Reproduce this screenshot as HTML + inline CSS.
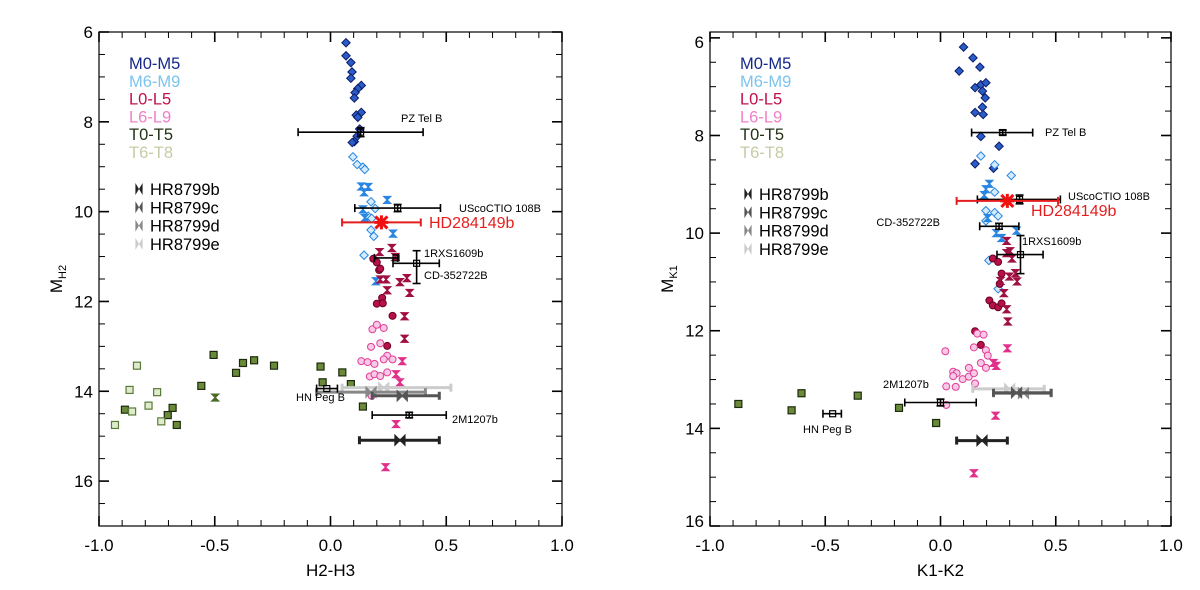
<!DOCTYPE html>
<html><head><meta charset="utf-8">
<style>
html,body{margin:0;padding:0;background:#fff;}
svg{display:block;font-family:"Liberation Sans",Arial,sans-serif;}
</style></head>
<body>
<svg id="chart" width="1200" height="590" viewBox="0 0 1200 590" xmlns="http://www.w3.org/2000/svg"></svg>
<script>
// ---------- LEFT PANEL DATA (H2-H3 vs M_H2) ----------
const leftM05 = [[0.067,6.24],[0.067,6.53],[0.088,6.68],[0.093,6.89],[0.088,7.03],[0.133,7.19],[0.118,7.26],[0.106,7.35],[0.103,7.47],[0.133,7.79],[0.111,7.85],[0.118,7.90],[0.126,8.16],[0.115,8.32],[0.103,8.44],[0.094,8.46]];
const leftM69 = [[0.097,8.78],[0.115,8.95],[0.14,9.01],[0.148,9.06],[0.175,9.78],[0.193,9.93],[0.163,10.10],[0.178,10.15],[0.175,10.41],[0.187,10.55],[0.145,10.97]];
const leftM69h = [[0.133,9.44],[0.163,9.45],[0.145,9.57],[0.245,9.74],[0.14,9.95],[0.148,10.14],[0.27,10.49],[0.196,11.55]];
const leftL05 = [[0.185,11.05],[0.2,11.13],[0.21,11.30],[0.215,11.27],[0.223,11.92],[0.2,12.05],[0.226,12.04],[0.268,12.32],[0.245,12.99]];
const leftL05h = [[0.212,10.90],[0.265,10.81],[0.28,11.01],[0.24,11.51],[0.215,11.51],[0.30,11.57],[0.245,11.75],[0.33,11.48],[0.342,11.81],[0.32,12.33],[0.32,12.83]];
const leftL69 = [[0.181,12.62],[0.2,12.52],[0.23,12.59],[0.175,13.01],[0.215,12.93],[0.245,13.21],[0.23,13.29],[0.268,13.29],[0.133,13.33],[0.16,13.35],[0.19,13.39],[0.17,13.67],[0.19,13.62],[0.215,13.66],[0.245,13.58],[0.178,14.10]];
const leftL69h = [[0.31,13.33],[0.283,13.62],[0.30,13.80],[0.283,14.73],[0.238,15.69]];
const leftT05 = [[-0.505,13.19],[-0.378,13.37],[-0.33,13.31],[-0.244,13.43],[-0.408,13.59],[-0.558,13.88],[-0.888,14.41],[-0.682,14.37],[-0.703,14.53],[-0.664,14.75],[-0.043,13.45],[0.051,13.58],[-0.034,13.80],[0.088,13.84],[0.14,14.34]];
const leftT05h = [[-0.498,14.14]];
const leftT68 = [[-0.836,13.43],[-0.868,13.97],[-0.749,14.02],[-0.786,14.32],[-0.857,14.45],[-0.731,14.67],[-0.931,14.75]];
// named objects: [x, y, xlo, xhi, ylo, yhi]
const leftObjNames = ["PZ Tel B","UScoCTIO 108B","1RXS1609b","CD-352722B","HN Peg B","2M1207b"];
const leftObjVals = [[0.13,8.23,-0.14,0.40,8.13,8.33],[0.29,9.92,0.105,0.475,9.84,10.0],[0.283,11.03,0.19,0.29,11.03,11.03],[0.372,11.15,0.27,0.47,10.87,11.6],[-0.016,13.94,-0.06,0.03,13.94,13.94],[0.34,14.53,0.18,0.50,14.47,14.59]];
const leftHD = [0.22,10.24,0.05,0.39];
const leftHR = [[0.30,15.09,0.125,0.47],[0.31,14.10,0.18,0.47],[0.175,14.02,-0.06,0.41],[0.23,13.92,0.05,0.52]];

// ---------- RIGHT PANEL DATA (K1-K2 vs M_K1) ----------
const rightM05 = [[0.10,6.19],[0.141,6.41],[0.171,6.60],[0.081,6.68],[0.15,7.02],[0.175,6.96],[0.197,6.92],[0.182,7.09],[0.194,7.23],[0.182,7.42],[0.15,7.53],[0.185,7.57],[0.175,8.02],[0.254,8.22],[0.15,8.58],[0.23,8.67]];
const rightM69 = [[0.175,8.42],[0.235,8.60],[0.307,8.82],[0.235,9.16],[0.197,9.54],[0.235,9.58],[0.25,9.65],[0.197,9.75],[0.21,10.56],[0.25,11.14]];
const rightM69h = [[0.212,8.99],[0.197,9.10],[0.19,9.22],[0.205,9.69],[0.242,10.0],[0.265,10.10],[0.33,9.95]];
const rightL05 = [[0.227,10.52],[0.25,10.59],[0.265,10.83],[0.257,11.04],[0.212,11.38],[0.227,11.48],[0.25,11.52],[0.265,11.44],[0.15,12.01],[0.175,12.29]];
const rightL05h = [[0.287,10.16],[0.287,10.41],[0.302,10.37],[0.31,10.52],[0.26,10.98],[0.299,10.89],[0.325,10.82],[0.332,10.99],[0.275,11.23],[0.287,11.56],[0.292,11.81]];
const rightL69 = [[0.021,12.42],[0.16,12.06],[0.187,12.08],[0.145,12.34],[0.197,12.40],[0.205,12.51],[0.175,12.66],[0.197,12.76],[0.123,12.76],[0.055,12.84],[0.07,12.87],[0.055,12.93],[0.096,12.99],[0.123,12.94],[0.145,12.87],[0.025,13.14],[0.066,13.15],[0.15,13.08],[0.025,13.52]];
const rightL69h = [[0.23,12.66],[0.242,12.72],[0.29,12.36],[0.239,13.74],[0.145,14.92]];
const rightT05 = [[-0.877,13.5],[-0.603,13.28],[-0.359,13.33],[-0.646,13.63],[-0.18,13.58],[-0.019,13.89]];
const rightT05h = [];
const rightT68 = [];
const rightObjNames = ["PZ Tel B","UScoCTIO 108B","CD-352722B","1RXS1609b","2M1207b","HN Peg B"];
const rightObjVals = [[0.27,7.94,0.135,0.40,7.89,7.99],[0.343,9.31,0.16,0.52,9.22,9.40],[0.254,9.86,0.17,0.34,9.80,9.92],[0.347,10.44,0.245,0.445,10.05,10.83],[0.0,13.47,-0.155,0.155,13.40,13.54],[-0.468,13.70,-0.51,-0.43,13.70,13.70]];
const rightHD = [0.29,9.34,0.07,0.51];
const rightHR = [[0.18,14.25,0.07,0.29],[0.33,13.27,0.23,0.48],[0.36,13.28,0.23,0.48],[0.30,13.19,0.14,0.45]];

const legendLabels = ["M0-M5","M6-M9","L0-L5","L6-L9","T0-T5","T6-T8"];
const legendColors = ["#15288a","#7cc4ee","#c0104a","#f080c8","#223316","#c4cca4"];
const hrLabels = ["HR8799b","HR8799c","HR8799d","HR8799e"];
const hrColors = ["#222","#555","#888","#ccc"];
const xTicks = [-1.0,-0.5,0.0,0.5,1.0];
const xTickLabels = ["-1.0","-0.5","0.0","0.5","1.0"];
const yTicks = [6,8,10,12,14,16];

const NS="http://www.w3.org/2000/svg";
const svg=document.getElementById('chart');
function mk(tag,attrs,parent){const e=document.createElementNS(NS,tag);for(const k in attrs)e.setAttribute(k,attrs[k]);(parent||svg).appendChild(e);return e;}

function panel(cfg){
  const g=mk('g',{});
  
  
  const X=v=>cfg.x0+(v-(-1))/2*(cfg.x1-cfg.x0);
  const Y=v=>cfg.y0+(v-cfg.ymin)/(cfg.ymax-cfg.ymin)*(cfg.y1-cfg.y0);
  // frame
  const fr=mk('rect',{x:cfg.x0,y:cfg.y0,width:cfg.x1-cfg.x0,height:cfg.y1-cfg.y0,fill:'none',stroke:'#000','stroke-width':1.2},g);
  
  
  // x ticks
  for(let i=0;i<=20;i++){const v=-1+i*0.1;const major=i%5===0;const L=major?10:6;
    mk('line',{x1:X(v),x2:X(v),y1:cfg.y1,y2:cfg.y1-L,stroke:'#000','stroke-width':major?1.6:1},g);
    mk('line',{x1:X(v),x2:X(v),y1:cfg.y0,y2:cfg.y0+L,stroke:'#000','stroke-width':major?1.6:1},g);}
  xTicks.forEach((v,i)=>{const t=mk('text',{x:X(v),y:cfg.y1+25,'font-size':17,'text-anchor':'middle',fill:'#000'},g);t.textContent=xTickLabels[i];
    
    });
  // y ticks
  for(let v=6;v<=cfg.ymax+0.001;v+=0.5){if(v<cfg.ymin)continue;const major=Math.abs(v/2-Math.round(v/2))<0.01;const L=major?10:6;
    mk('line',{x1:cfg.x0,x2:cfg.x0+L,y1:Y(v),y2:Y(v),stroke:'#000','stroke-width':major?1.6:1},g);
    mk('line',{x1:cfg.x1,x2:cfg.x1-L,y1:Y(v),y2:Y(v),stroke:'#000','stroke-width':major?1.6:1},g);}
  yTicks.forEach((v,i)=>{let yy=Y(v)+6;if(cfg.shiftEnds){if(i===0)yy+=4;if(i===yTicks.length-1)yy-=5;}
    const t=mk('text',{x:cfg.x0-6,y:yy,'font-size':17,'text-anchor':'end',fill:'#000'},g);t.textContent=String(v);
    
    });
  const xt=mk('text',{x:(cfg.x0+cfg.x1)/2,y:cfg.y1+50,'font-size':17,'text-anchor':'middle'},g);xt.textContent=cfg.xlabel;
  
  
  const yt=mk('text',{transform:`translate(${cfg.x0-37},${(cfg.y0+cfg.y1)/2}) rotate(-90)`,'font-size':17,'text-anchor':'middle'},g);
  yt.innerHTML='M<tspan font-size="11" dy="4">'+cfg.ysub+'</tspan>';
  
  

  const P=mk('g',{},g);
  function diamond(x,y,fill,stroke,name){const s=4.2;const e=mk('polygon',{points:`${x},${y-s} ${x+s},${y} ${x},${y+s} ${x-s},${y}`,fill,stroke,'stroke-width':1},P);
    }
  function circ(x,y,fill,stroke,name){const e=mk('circle',{cx:x,cy:y,r:3.5,fill,stroke,'stroke-width':1},P);
    }
  function sq(x,y,fill,stroke,name){const e=mk('rect',{x:x-3.5,y:y-3.5,width:7,height:7,fill,stroke,'stroke-width':1.2},P);
    }
  function hg(x,y,color,name){const s=3.5;const e=mk('polygon',{points:`${x-s},${y-s} ${x+s},${y-s} ${x},${y} ${x+s},${y+s} ${x-s},${y+s} ${x},${y}`,fill:color,stroke:color,'stroke-width':1.2},P);
    }
  function bow(x,y,color,name,s){s=s||4;const e=mk('polygon',{points:`${x-s},${y-s} ${x},${y} ${x+s},${y-s} ${x+s},${y+s} ${x},${y} ${x-s},${y+s}`,fill:color,stroke:color,'stroke-width':1.2},P);
    }

  cfg.M05.forEach(d=>diamond(X(d[0]),Y(d[1]),'#2a5cc8','#0c1c66','m0-m5-point'));
  cfg.M69.forEach(d=>diamond(X(d[0]),Y(d[1]),'#d4ecff','#2a86e0','m6-m9-point'));
  cfg.M69h.forEach(d=>hg(X(d[0]),Y(d[1]),'#2a86e0','m6-m9-young-point'));
  cfg.L05.forEach(d=>circ(X(d[0]),Y(d[1]),'#b8104a','#6a0024','l0-l5-point'));
  cfg.L05h.forEach(d=>hg(X(d[0]),Y(d[1]),'#a01040','l0-l5-young-point'));
  cfg.L69.forEach(d=>circ(X(d[0]),Y(d[1]),'#f8c8e4','#e0409a','l6-l9-point'));
  cfg.L69h.forEach(d=>hg(X(d[0]),Y(d[1]),'#e0308a','l6-l9-young-point'));
  cfg.T05.forEach(d=>sq(X(d[0]),Y(d[1]),'#6a8a3a','#1c2a0c','t0-t5-point'));
  cfg.T05h.forEach(d=>hg(X(d[0]),Y(d[1]),'#4a6a2a','t0-t5-young-point'));
  cfg.T68.forEach(d=>sq(X(d[0]),Y(d[1]),'#dfeccb','#5a7a3a','t6-t8-point'));

  function errbar(d,color,w,name){
    const eg=mk('g',{},P);
    
    
    mk('line',{x1:X(d[2]),x2:X(d[3]),y1:Y(d[1]),y2:Y(d[1]),stroke:color,'stroke-width':w},eg);
    [d[2],d[3]].forEach(v=>mk('line',{x1:X(v),x2:X(v),y1:Y(d[1])-4,y2:Y(d[1])+4,stroke:color,'stroke-width':w},eg));
    if(d.length>4&&d[5]>d[4]){mk('line',{x1:X(d[0]),x2:X(d[0]),y1:Y(d[4]),y2:Y(d[5]),stroke:color,'stroke-width':w},eg);
      [d[4],d[5]].forEach(v=>mk('line',{x1:X(d[0])-4,x2:X(d[0])+4,y1:Y(v),y2:Y(v),stroke:color,'stroke-width':w},eg));}
    return eg;}
  cfg.HR.forEach((d,i)=>{const idx=3-i;const h=cfg.HR[idx];errbar(h,hrColors[idx],3,'hr8799-errorbar');bow(X(h[0]),Y(h[1]),hrColors[idx],'hr8799-point',5);});
  cfg.objVals.forEach((d,i)=>{errbar(d,'#000',1.6,'object-errorbar');
    const m=mk('rect',{x:X(d[0])-3,y:Y(d[1])-3,width:6,height:6,fill:'none',stroke:'#000','stroke-width':1.2},P);
    
    
    const lp=cfg.objLab[i];const t=mk('text',{x:lp[0],y:lp[1],'font-size':11,fill:'#000','text-anchor':lp[2]||'start'},P);t.textContent=cfg.objNames[i];
    
    });
  // HD284149b
  const hd=cfg.HD;errbar(hd,'#e41e1e',2,'hd284149b-errorbar');
  const sx=X(hd[0]),sy=Y(hd[1]);
  const st=mk('path',{d:`M${sx-6},${sy-6}L${sx+6},${sy+6}M${sx+6},${sy-6}L${sx-6},${sy+6}M${sx},${sy-7}L${sx},${sy+7}M${sx-7},${sy}L${sx+7},${sy}`,stroke:'#f01010','stroke-width':3},P);
  
  
  const ht=mk('text',{x:cfg.hdLab[0],y:cfg.hdLab[1],'font-size':16,fill:'#e41e1e'},P);ht.textContent='HD284149b';
  
  

  // legend
  const lg=mk('g',{},g);
  
  
  legendLabels.forEach((s,i)=>{const t=mk('text',{x:cfg.leg[0],y:cfg.leg[1]+i*17.8,'font-size':16.5,fill:legendColors[i]},lg);t.textContent=s;
    
    });
  hrLabels.forEach((s,i)=>{const y=cfg.hrLeg[1]+i*18.3;
    const s2=3.6,x=cfg.hrLeg[0]-11;
    mk('polygon',{points:`${x-s2},${y-12} ${x},${y-6} ${x+s2},${y-12} ${x+s2},${y} ${x},${y-6} ${x-s2},${y}`,fill:hrColors[i]},lg);
    const t=mk('text',{x:cfg.hrLeg[0],y:y,'font-size':16.5,fill:'#000'},lg);t.textContent=s;
    
    });
}

panel({name:'left-panel',x0:99,x1:562,y0:32,y1:526,ymin:6,ymax:17,xlabel:'H2-H3',ysub:'H2',shiftEnds:false,
  M05:leftM05,M69:leftM69,M69h:leftM69h,L05:leftL05,L05h:leftL05h,L69:leftL69,L69h:leftL69h,T05:leftT05,T05h:leftT05h,T68:leftT68,
  objNames:leftObjNames,objVals:leftObjVals,objLab:[[401,122],[459,212],[424,257],[424,279],[296,401],[452,423]],
  HD:leftHD,hdLab:[429,228],HR:leftHR,leg:[129,69],hrLeg:[150,195]});
panel({name:'right-panel',x0:710,x1:1171,y0:32,y1:526,ymin:5.88,ymax:16,xlabel:'K1-K2',ysub:'K1',shiftEnds:true,
  M05:rightM05,M69:rightM69,M69h:rightM69h,L05:rightL05,L05h:rightL05h,L69:rightL69,L69h:rightL69h,T05:rightT05,T05h:rightT05h,T68:rightT68,
  objNames:rightObjNames,objVals:rightObjVals,objLab:[[1045,136],[1068,200],[940,226,'end'],[1022,245],[883,388],[803,433]],
  HD:rightHD,hdLab:[1031,216],HR:rightHR,leg:[740,69],hrLeg:[759,200]});
</script>
</body></html>
